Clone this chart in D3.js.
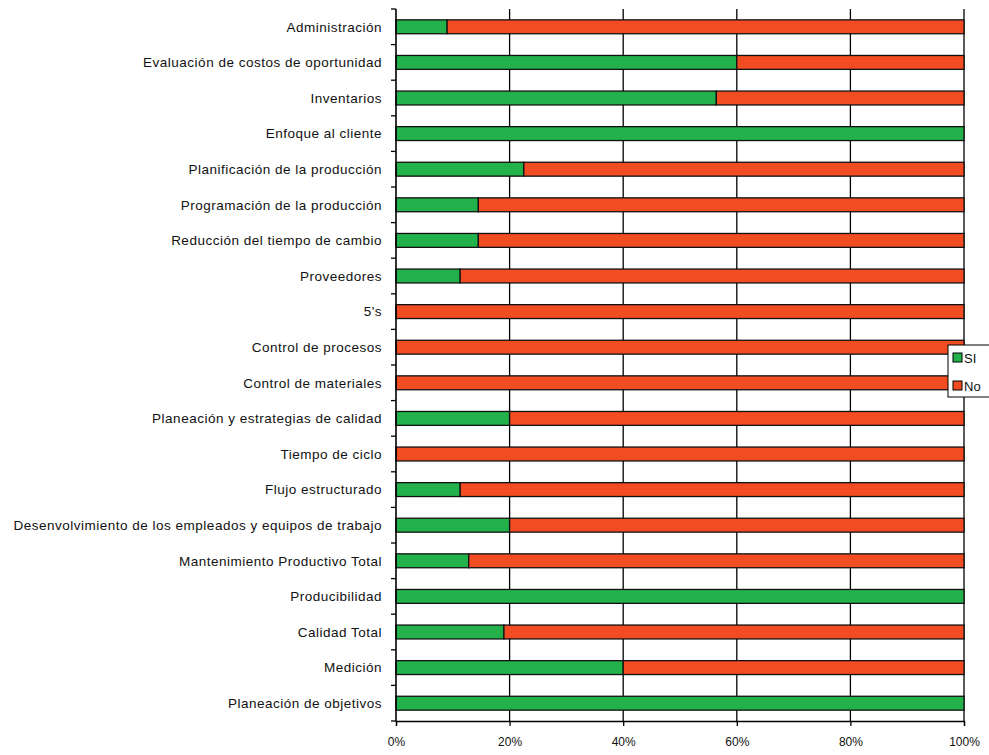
<!DOCTYPE html>
<html>
<head>
<meta charset="utf-8">
<script src="https://cdn.jsdelivr.net/npm/d3@7"></script>
<style>
  body { margin: 0; background: #fff; }
  svg { display: block; font-family: "Liberation Sans", Arial, sans-serif; }
</style>
</head>
<body>
<div class="container"></div>
<script>
const categories = [
  'Administración',
  'Evaluación de costos de oportunidad',
  'Inventarios',
  'Enfoque al cliente',
  'Planificación de la producción',
  'Programación de la producción',
  'Reducción del tiempo de cambio',
  'Proveedores',
  "5's",
  'Control de procesos',
  'Control de materiales',
  'Planeación y estrategias de calidad',
  'Tiempo de ciclo',
  'Flujo estructurado',
  'Desenvolvimiento de los empleados y equipos de trabajo',
  'Mantenimiento Productivo Total',
  'Producibilidad',
  'Calidad Total',
  'Medición',
  'Planeación de objetivos'
];

// share of "SI" answers, in %; "No" is the rest
const si = [9, 60, 56.4, 100, 22.5, 14.5, 14.5, 11.3, 0, 0, 0, 20, 0, 11.3, 20, 12.8, 100, 19, 40, 100];
const no = si.map(v => 100 - v);

const series = ['SI', 'No'];
const ticks = [0, 20, 40, 60, 80, 100];

const width = 989;
const height = 755;
const margin = { top: 9, right: 25, bottom: 34, left: 396 };

const svg = d3
  .select('.container')
  .append('svg')
  .attr('width', width)
  .attr('height', height);

const color = d3.scaleOrdinal().domain(series).range(['#23b14b', '#f24c22']);

const x = d3.scaleLinear().domain([0, 100]).range([margin.left, width - margin.right]);
const y = d3
  .scaleBand()
  .domain(categories)
  .range([margin.top, height - margin.bottom])
  .paddingInner(0.61)
  .paddingOuter(0.305);

const rows = categories.map((c, i) => ({ key: c, SI: si[i], No: no[i] }));
const stacked = d3.stack().keys(series)(rows);

// grid lines
svg
  .append('g')
  .attr('class', 'grid')
  .selectAll('line')
  .data(ticks.slice(1))
  .enter()
  .append('line')
  .attr('x1', d => x(d))
  .attr('x2', d => x(d))
  .attr('y1', margin.top)
  .attr('y2', height - margin.bottom)
  .attr('stroke', '#000')
  .attr('stroke-width', 1.3);

// bars
svg
  .append('g')
  .selectAll('g')
  .data(stacked)
  .enter()
  .append('g')
  .attr('fill', d => color(d.key))
  .selectAll('rect')
  .data(d => d.filter(p => p[1] - p[0] > 0))
  .enter()
  .append('rect')
  .attr('x', d => x(d[0]))
  .attr('width', d => x(d[1]) - x(d[0]))
  .attr('y', d => y(d.data.key))
  .attr('height', y.bandwidth())
  .attr('stroke', '#111')
  .attr('stroke-width', 1.3);

// y axis: ticks at band boundaries
const step = y.step();
const bounds = d3.range(categories.length + 1).map(i => margin.top + i * step);

const yAxis = svg.append('g').attr('class', 'y-axis');
yAxis
  .append('line')
  .attr('x1', margin.left)
  .attr('x2', margin.left)
  .attr('y1', margin.top)
  .attr('y2', height - margin.bottom)
  .attr('stroke', '#000')
  .attr('stroke-width', 1.6);
yAxis
  .selectAll('.tick')
  .data(bounds)
  .enter()
  .append('line')
  .attr('x1', margin.left - 5)
  .attr('x2', margin.left)
  .attr('y1', d => d)
  .attr('y2', d => d)
  .attr('stroke', '#000')
  .attr('stroke-width', 1.3);
yAxis
  .selectAll('text')
  .data(categories)
  .enter()
  .append('text')
  .attr('x', margin.left - 14)
  .attr('y', d => y(d) + y.bandwidth() / 2)
  .attr('dy', '0.35em')
  .attr('text-anchor', 'end')
  .attr('font-size', 13.5)
  .attr('letter-spacing', 0.5)
  .attr('fill', '#111')
  .text(d => d);

// x axis
const xAxis = svg
  .append('g')
  .attr('class', 'x-axis')
  .attr('transform', `translate(0, ${height - margin.bottom})`)
  .call(
    d3
      .axisBottom(x)
      .tickValues(ticks)
      .tickSize(5)
      .tickPadding(11)
      .tickFormat(d => d + '%')
  );
xAxis.select('.domain').attr('stroke', '#000').attr('stroke-width', 1.3);
xAxis.selectAll('.tick line').attr('stroke', '#000').attr('stroke-width', 1.3);
xAxis
  .selectAll('.tick text')
  .attr('font-size', 12)
  .attr('fill', '#111')
  .attr('font-family', '"Liberation Sans", Arial, sans-serif');

// legend
const legend = svg.append('g').attr('class', 'legend').attr('transform', 'translate(948, 345)');
legend
  .append('rect')
  .attr('width', 50)
  .attr('height', 52)
  .attr('fill', '#fff')
  .attr('stroke', '#000')
  .attr('stroke-width', 1);

const items = legend
  .selectAll('.item')
  .data(series)
  .enter()
  .append('g')
  .attr('class', 'item')
  .attr('transform', (d, i) => `translate(5, ${8 + i * 28})`);
items
  .append('rect')
  .attr('width', 9)
  .attr('height', 9)
  .attr('fill', d => color(d))
  .attr('stroke', '#000')
  .attr('stroke-width', 1);
items
  .append('text')
  .attr('x', 11)
  .attr('y', 5)
  .attr('dy', '0.35em')
  .attr('font-size', 13)
  .attr('fill', '#111')
  .text(d => d);
</script>
</body>
</html>
